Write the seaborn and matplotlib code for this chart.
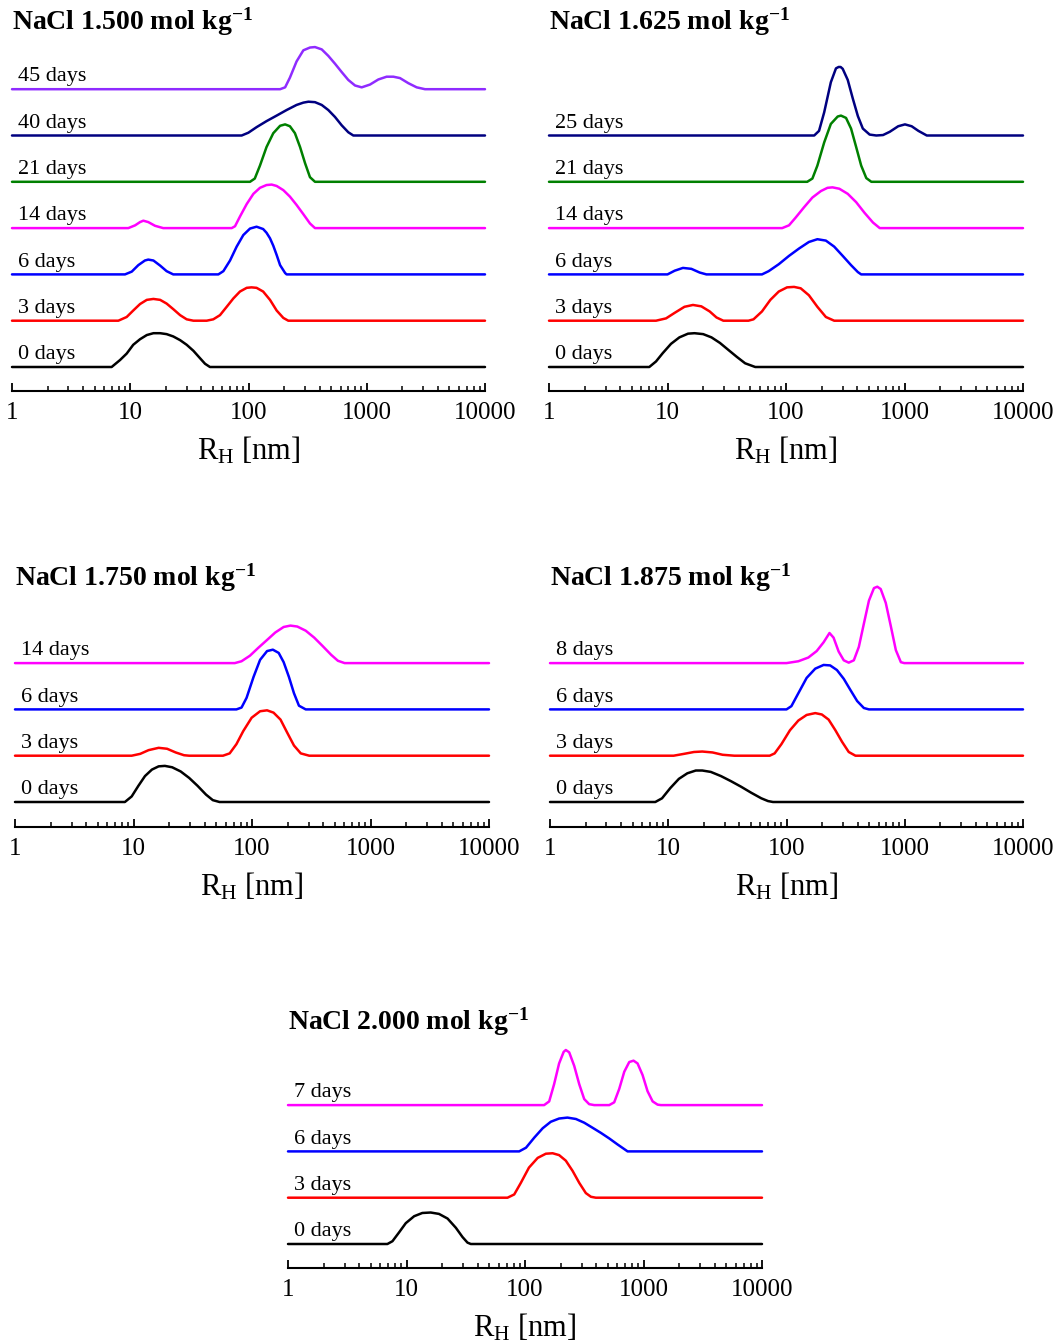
import matplotlib
matplotlib.use("Agg")
import matplotlib.pyplot as plt
import seaborn as sns
import pandas as pd

sns.set_style("white")
plt.rcParams["font.family"] = ["Liberation Serif", "DejaVu Serif"]
plt.rcParams["mathtext.fontset"] = "custom"
plt.rcParams["mathtext.rm"] = "Liberation Serif"
plt.rcParams["mathtext.bf"] = "Liberation Serif:bold"
plt.rcParams["mathtext.default"] = "regular"
plt.rcParams["text.color"] = "black"
plt.rcParams["axes.labelcolor"] = "black"
plt.rcParams["xtick.color"] = "black"

# ---- data: R_H [nm] and intensity (in units of curve spacing) ----
# NaCl 1.500
p1_d0_r = [6.96, 8.19, 9.33, 10.6, 12.1, 13.8, 15.7, 17.9, 20.3, 23.1, 26.4, 30.0, 34.2, 38.9, 42.9, 47.2]
p1_d0_h = [0, 0.15, 0.29, 0.48, 0.6, 0.69, 0.73, 0.73, 0.71, 0.66, 0.58, 0.48, 0.35, 0.19, 0.07, 0]
p1_d3_r = [7.93, 9.33, 10.6, 12.1, 13.8, 15.7, 17.9, 20.3, 23.1, 26.4, 30.0, 34.2, 44.3, 50.4, 57.4, 65.4,
           74.4, 84.7, 96.6, 106, 117, 133, 152, 173, 197, 217]
p1_d3_h = [0, 0.08, 0.22, 0.36, 0.45, 0.47, 0.45, 0.37, 0.25, 0.12, 0.03, 0, 0, 0.03, 0.12, 0.3,
           0.48, 0.63, 0.71, 0.72, 0.71, 0.63, 0.45, 0.22, 0.06, 0]
p1_d6_r = [9.03, 10.3, 11.7, 13.3, 14.2, 15.7, 17.9, 20.3, 23.1, 55.6, 61.3, 69.8, 79.4, 90.4, 103, 117,
           133, 142, 152, 162, 173, 185, 204, 210]
p1_d6_h = [0, 0.06, 0.2, 0.3, 0.32, 0.3, 0.19, 0.07, 0, 0, 0.07, 0.3, 0.6, 0.85, 0.99, 1.03,
           0.98, 0.9, 0.78, 0.62, 0.42, 0.2, 0.03, 0]
p1_d14_r = [9.63, 11.0, 12.1, 12.9, 14.2, 16.2, 19.0, 72.1, 76.9, 84.7, 96.6, 110, 125, 142, 157, 173,
            197, 224, 255, 291, 331, 365]
p1_d14_h = [0, 0.06, 0.13, 0.16, 0.13, 0.05, 0, 0, 0.04, 0.25, 0.52, 0.74, 0.87, 0.93, 0.94, 0.91,
            0.82, 0.68, 0.5, 0.3, 0.1, 0]
p1_d21_r = [103, 113, 125, 142, 162, 185, 204, 224, 247, 273, 301, 331, 365]
p1_d21_h = [0, 0.07, 0.35, 0.75, 1.05, 1.21, 1.24, 1.2, 1.05, 0.75, 0.4, 0.1, 0]
p1_d40_r = [87.5, 99.7, 117, 142, 173, 210, 255, 291, 321, 365, 416, 473, 539, 614, 698, 770]
p1_d40_h = [0, 0.06, 0.18, 0.31, 0.43, 0.55, 0.66, 0.71, 0.73, 0.72, 0.66, 0.55, 0.4, 0.22, 0.07, 0]
p1_d45_r = [185, 204, 224, 255, 291, 331, 365, 416, 473, 539, 614, 698, 796, 906, 1065, 1253,
            1473, 1678, 1910, 2248, 2644, 3110]
p1_d45_h = [0, 0.04, 0.25, 0.6, 0.84, 0.9, 0.91, 0.86, 0.72, 0.55, 0.37, 0.2, 0.08, 0.04, 0.1, 0.21,
            0.27, 0.27, 0.24, 0.13, 0.04, 0]

# NaCl 1.625
p2_d0_r = [7.02, 8.0, 9.12, 10.7, 12.6, 14.9, 16.9, 20.0, 23.5, 27.7, 32.6, 38.4, 45.2, 55.0]
p2_d0_h = [0, 0.12, 0.3, 0.5, 0.64, 0.72, 0.73, 0.71, 0.64, 0.52, 0.37, 0.22, 0.08, 0]
p2_d3_r = [8.0, 9.72, 11.5, 13.9, 16.4, 19.3, 22.7, 25.9, 29.6, 48.2, 53.2, 62.7, 73.8, 86.9, 102, 117,
           133, 156, 184, 217, 255]
p2_d3_h = [0, 0.05, 0.17, 0.3, 0.34, 0.31, 0.2, 0.07, 0, 0, 0.03, 0.2, 0.45, 0.63, 0.72, 0.73,
           0.7, 0.55, 0.3, 0.08, 0]
p2_d6_r = [10.0, 11.5, 13.5, 15.9, 18.7, 21.3, 62.7, 71.4, 86.9, 106, 129, 156, 184, 217, 255, 301,
           354, 404, 431]
p2_d6_h = [0, 0.08, 0.14, 0.12, 0.04, 0, 0, 0.07, 0.22, 0.4, 0.56, 0.7, 0.76, 0.73, 0.6, 0.4,
           0.2, 0.05, 0]
p2_d14_r = [92.8, 106, 120, 142, 167, 197, 224, 247, 282, 332, 391, 460, 542, 618]
p2_d14_h = [0, 0.06, 0.22, 0.45, 0.66, 0.8, 0.87, 0.88, 0.85, 0.74, 0.56, 0.33, 0.12, 0]
p2_d21_r = [151, 167, 184, 210, 239, 273, 291, 321, 354, 391, 431, 476, 525]
p2_d21_h = [0, 0.07, 0.35, 0.85, 1.25, 1.41, 1.43, 1.38, 1.15, 0.75, 0.35, 0.08, 0]
p2_d25_r = [173, 190, 210, 239, 264, 278, 289, 301, 332, 366, 404, 445, 508, 578, 659, 751, 885,
            1009, 1149, 1310, 1542]
p2_d25_h = [0, 0.1, 0.5, 1.15, 1.45, 1.48, 1.48, 1.44, 1.2, 0.8, 0.42, 0.15, 0.02, 0, 0.01, 0.08, 0.2,
            0.24, 0.2, 0.1, 0]

# NaCl 1.750
p3_d0_r = [8.46, 9.65, 11.0, 12.5, 14.3, 16.3, 18.4, 21.2, 25.0, 29.5, 34.7, 40.9, 46.7, 53.2]
p3_d0_h = [0, 0.12, 0.35, 0.56, 0.7, 0.77, 0.78, 0.75, 0.66, 0.52, 0.35, 0.16, 0.04, 0]
p3_d3_r = [9.65, 11.4, 13.4, 16.3, 19.2, 22.7, 26.7, 29.5, 56.9, 64.8, 73.9, 84.3, 99.3, 117, 134, 152,
           174, 198, 226, 258, 304]
p3_d3_h = [0, 0.04, 0.12, 0.17, 0.15, 0.07, 0.01, 0, 0, 0.05, 0.25, 0.53, 0.82, 0.96, 0.98, 0.93,
           0.78, 0.5, 0.22, 0.05, 0]
p3_d6_r = [73.9, 81.6, 90.0, 103, 117, 134, 150, 168, 185, 205, 226, 249, 284]
p3_d6_h = [0, 0.04, 0.25, 0.7, 1.07, 1.26, 1.29, 1.22, 1.02, 0.7, 0.35, 0.08, 0]
p3_d14_r = [71.6, 81.6, 96.1, 113, 134, 157, 185, 211, 241, 284, 335, 394, 465, 531, 605]
p3_d14_h = [0, 0.04, 0.16, 0.33, 0.5, 0.66, 0.78, 0.81, 0.79, 0.7, 0.55, 0.37, 0.18, 0.05, 0]

# NaCl 1.875
p4_d0_r = [7.77, 8.86, 10.4, 12.3, 14.5, 17.1, 19.4, 22.9, 27.9, 33.9, 41.3, 50.3, 61.2, 69.8, 76.9]
p4_d0_h = [0, 0.08, 0.3, 0.5, 0.62, 0.68, 0.68, 0.65, 0.56, 0.45, 0.33, 0.2, 0.08, 0.02, 0]
p4_d3_r = [11.1, 13.6, 16.5, 19.4, 23.7, 28.8, 36.2, 72.1, 79.4, 90.6, 107, 126, 148, 175, 199, 227,
           259, 295, 336, 383]
p4_d3_h = [0, 0.04, 0.08, 0.09, 0.07, 0.02, 0, 0, 0.05, 0.25, 0.55, 0.76, 0.88, 0.92, 0.89, 0.78,
           0.55, 0.3, 0.08, 0]
p4_d6_r = [100, 110, 126, 148, 175, 206, 234, 267, 305, 347, 396, 451, 498]
p4_d6_h = [0, 0.07, 0.35, 0.68, 0.88, 0.96, 0.95, 0.85, 0.66, 0.42, 0.18, 0.03, 0]
p4_d8_r = [100, 126, 153, 180, 206, 231, 250, 276, 305, 336, 371, 409, 451, 498, 549, 586,
           626, 691, 762, 841, 927, 990]
p4_d8_h = [0, 0.04, 0.12, 0.26, 0.45, 0.65, 0.55, 0.25, 0.06, 0.01, 0.06, 0.35, 0.85, 1.35, 1.62, 1.65,
           1.6, 1.3, 0.8, 0.28, 0.02, 0]

# NaCl 2.000
p5_d0_r = [6.90, 7.61, 8.65, 9.86, 11.6, 13.6, 16.0, 18.8, 22.2, 26.1, 29.7, 32.7, 34.9]
p5_d0_h = [0, 0.06, 0.25, 0.45, 0.6, 0.67, 0.68, 0.65, 0.55, 0.35, 0.15, 0.03, 0]
p5_d3_r = [71.2, 81.1, 92.2, 108, 128, 150, 171, 194, 221, 252, 287, 326, 360, 396]
p5_d3_h = [0, 0.07, 0.32, 0.65, 0.86, 0.95, 0.96, 0.92, 0.8, 0.58, 0.32, 0.1, 0.02, 0]
p5_d6_r = [89.3, 102, 120, 141, 165, 194, 228, 269, 316, 372, 437, 514, 604, 688, 734]
p5_d6_h = [0, 0.08, 0.3, 0.5, 0.64, 0.71, 0.73, 0.7, 0.62, 0.51, 0.4, 0.28, 0.15, 0.05, 0]
p5_d7_r = [145, 160, 176, 194, 212, 221, 236, 260, 287, 316, 348, 384, 514, 566, 624, 688,
           758, 824, 891, 982, 1082, 1194, 1315, 1403]
p5_d7_h = [0, 0.08, 0.45, 0.9, 1.15, 1.19, 1.14, 0.85, 0.45, 0.13, 0.02, 0, 0, 0.06, 0.35, 0.72,
           0.93, 0.96, 0.9, 0.65, 0.3, 0.08, 0.01, 0]

tick_vals = [1, 10, 100, 1000, 10000]
tick_labels = ["1", "10", "100", "1000", "10000"]

BLACK, RED, BLUE, MAG, GREEN, NAVY, PURPLE = "#000000", "#ff0000", "#0000ff", "#ff00ff", "#008000", "#000080", "#8f2bff"

panels = [
    ("NaCl 1.500", (12, 485, 40, 391), 367, 22,
     [("0 days", p1_d0_r, p1_d0_h, BLACK), ("3 days", p1_d3_r, p1_d3_h, RED),
      ("6 days", p1_d6_r, p1_d6_h, BLUE), ("14 days", p1_d14_r, p1_d14_h, MAG),
      ("21 days", p1_d21_r, p1_d21_h, GREEN), ("40 days", p1_d40_r, p1_d40_h, NAVY),
      ("45 days", p1_d45_r, p1_d45_h, PURPLE)]),
    ("NaCl 1.625", (549, 1023, 40, 391), 367, 22,
     [("0 days", p2_d0_r, p2_d0_h, BLACK), ("3 days", p2_d3_r, p2_d3_h, RED),
      ("6 days", p2_d6_r, p2_d6_h, BLUE), ("14 days", p2_d14_r, p2_d14_h, MAG),
      ("21 days", p2_d21_r, p2_d21_h, GREEN), ("25 days", p2_d25_r, p2_d25_h, NAVY)]),
    ("NaCl 1.750", (15, 489, 560, 827), 802, 578,
     [("0 days", p3_d0_r, p3_d0_h, BLACK), ("3 days", p3_d3_r, p3_d3_h, RED),
      ("6 days", p3_d6_r, p3_d6_h, BLUE), ("14 days", p3_d14_r, p3_d14_h, MAG)]),
    ("NaCl 1.875", (550, 1023, 560, 827), 802, 578,
     [("0 days", p4_d0_r, p4_d0_h, BLACK), ("3 days", p4_d3_r, p4_d3_h, RED),
      ("6 days", p4_d6_r, p4_d6_h, BLUE), ("8 days", p4_d8_r, p4_d8_h, MAG)]),
    ("NaCl 2.000", (288, 762, 1040, 1268), 1244, 1022,
     [("0 days", p5_d0_r, p5_d0_h, BLACK), ("3 days", p5_d3_r, p5_d3_h, RED),
      ("6 days", p5_d6_r, p5_d6_h, BLUE), ("7 days", p5_d7_r, p5_d7_h, MAG)]),
]

W, H = 1057, 1343
SPACING = 46.3  # px between stacked curves

fig = plt.figure(figsize=(W / 100, H / 100), dpi=100)

for title, (L, R, T, B), base0, ty, curves in panels:
    ax = fig.add_axes([L / W, 1 - B / H, (R - L) / W, (B - T) / H])
    for i, (lab, r, h, col) in enumerate(curves):
        df = pd.DataFrame({"R": [1] + r + [10000], "I": [i + v for v in [0] + h + [0]]})
        sns.lineplot(data=df, x="R", y="I", color=col, linewidth=1.8, sort=False,
                     estimator=None, ax=ax, solid_joinstyle="round", clip_on=False)
        ax.text(0.012, i + 0.17, lab, transform=ax.get_yaxis_transform(), fontsize=16,
                va="baseline", ha="left", color="black")
    ax.set_xscale("log")
    ax.set_xlim(1, 10000)
    ax.set_ylim(-(B - base0) / SPACING, (base0 - T) / SPACING)
    for s in ["top", "right", "left"]:
        ax.spines[s].set_visible(False)
    ax.spines["bottom"].set_linewidth(1.5)
    ax.spines["bottom"].set_color("black")
    ax.set_yticks([])
    ax.set_ylabel("")
    ax.set_xticks(tick_vals)
    ax.set_xticklabels(tick_labels)
    ax.tick_params(axis="x", which="both", bottom=True, direction="in", colors="black")
    ax.tick_params(axis="x", which="major", length=6, width=1.3, labelsize=18, pad=8)
    ax.tick_params(axis="x", which="minor", length=3.5, width=1.1)
    ax.set_xlabel(r"R$_\mathregular{H}$ [nm]", fontsize=22, labelpad=8, color="black")
    fig.text(L / W, 1 - ty / H, title + r" mol kg$^{\mathbf{-1}}$", fontsize=20,
             fontweight="bold", va="center", ha="left", color="black")

fig.savefig("out.png", dpi=100)
